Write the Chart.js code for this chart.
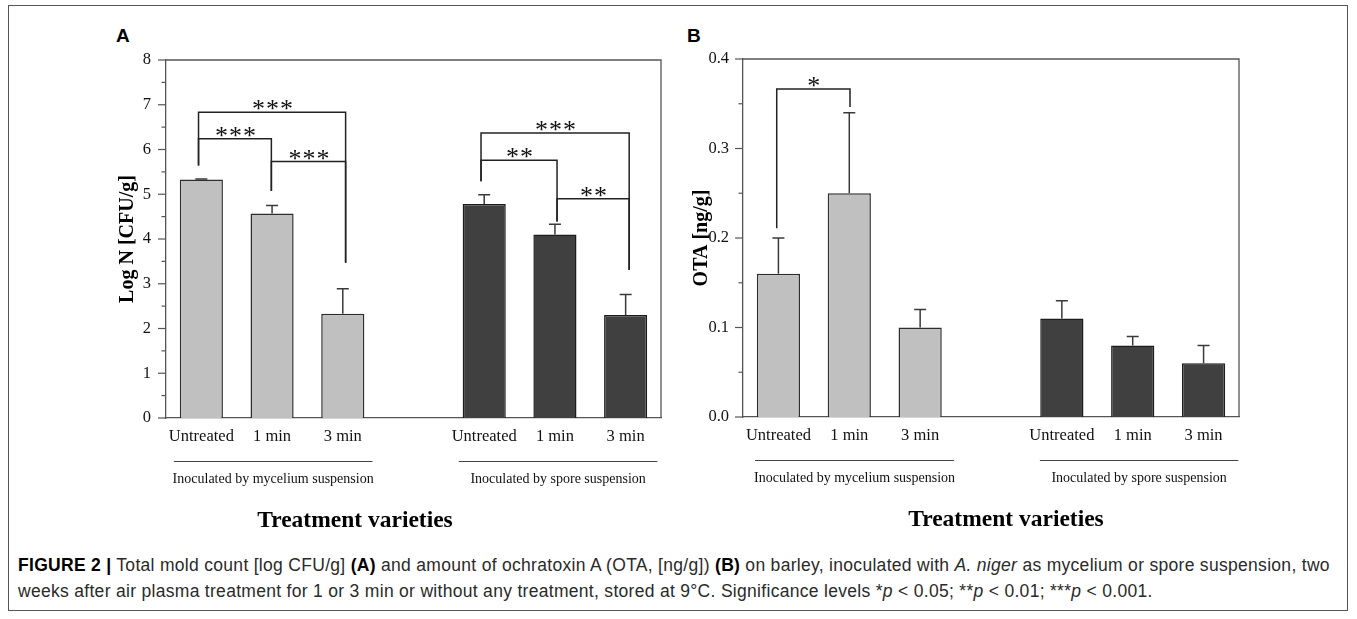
<!DOCTYPE html>
<html><head><meta charset="utf-8">
<script src="https://cdn.jsdelivr.net/npm/chart.js@4.4.0/dist/chart.umd.min.js"></script>
<style>
html,body{margin:0;padding:0;background:#fff;}
body{width:1357px;height:619px;position:relative;overflow:hidden;}
#frame{position:absolute;left:8px;top:5px;width:1340px;height:606px;border:1px solid #555;box-sizing:border-box;}
.letter{position:absolute;font-family:'Liberation Sans',Arial,sans-serif;font-weight:bold;font-size:19px;color:#000;line-height:1;}
#cA{position:absolute;left:0;top:0;}
#cB{position:absolute;left:680px;top:0;}
#caption{position:absolute;left:18px;top:552px;font-family:'Liberation Sans Narrow','Liberation Sans',sans-serif;font-size:17.5px;letter-spacing:0.3px;line-height:26px;color:#2a2a2a;white-space:nowrap;}
#caption b{color:#000;}
</style></head>
<body>
<div id="frame"></div>
<div class="letter" style="left:116px;top:26px;">A</div>
<div class="letter" style="left:687px;top:26px;">B</div>
<canvas id="cA" width="680" height="545"></canvas>
<canvas id="cB" width="677" height="545"></canvas>
<div id="caption"><b>FIGURE 2 |</b> Total mold count [log CFU/g] <b>(A)</b> and amount of ochratoxin A (OTA, [ng/g]) <b>(B)</b> on barley, inoculated with <i>A. niger</i> as mycelium or spore suspension, two<br>weeks after air plasma treatment for 1 or 3 min or without any treatment, stored at 9°C. Significance levels *<i>p</i> &lt; 0.05; **<i>p</i> &lt; 0.01; ***<i>p</i> &lt; 0.001.</div>
<script>
// ---------- data ----------
const categories = ['Untreated', '1 min', '3 min', '', 'Untreated', '1 min', '3 min'];
const groupNames = ['Inoculated by mycelium suspension', 'Inoculated by spore suspension'];
const xTitle = 'Treatment varieties';

const cfuMycelium    = [5.33, 4.57, 2.33, null, null, null, null];
const cfuMyceliumErr = [0.01, 0.18, 0.56, null, null, null, null];
const cfuSpore       = [null, null, null, null, 4.78, 4.10, 2.30];
const cfuSporeErr    = [null, null, null, null, 0.21, 0.23, 0.46];

const otaMycelium    = [0.16, 0.25, 0.10, null, null, null, null];
const otaMyceliumErr = [0.04, 0.09, 0.02, null, null, null, null];
const otaSpore       = [null, null, null, null, 0.11, 0.08, 0.06];
const otaSporeErr    = [null, null, null, null, 0.02, 0.01, 0.02];

const cfuMajorTicks = [0, 1, 2, 3, 4, 5, 6, 7, 8];
const cfuMinorTicks = [0.5, 1.5, 2.5, 3.5, 4.5, 5.5, 6.5, 7.5];
const otaMajorTicks = [0, 0.1, 0.2, 0.3, 0.4];
const otaMinorTicks = [0.05, 0.15, 0.25, 0.35];

// significance brackets (category index from/to, level, leg ends, stars)
const cfuBracketFrom    = [-0.04, -0.04, 0.99, 3.955, 3.955, 5.03];
const cfuBracketTo      = [2.04, 0.99, 2.04, 6.05, 5.03, 6.05];
const cfuBracketLevel   = [6.83, 6.24, 5.73, 6.37, 5.76, 4.90];
const cfuBracketFromEnd = [5.64, 5.64, 5.07, 5.29, 5.29, 4.39];
const cfuBracketToEnd   = [3.47, 5.07, 3.47, 3.31, 4.39, 3.31];
const cfuBracketStars   = ['***', '***', '***', '***', '**', '**'];

const otaBracketFrom    = [-0.024];
const otaBracketTo      = [1.01];
const otaBracketLevel   = [0.3666];
const otaBracketFromEnd = [0.211];
const otaBracketToEnd   = [0.3464];
const otaBracketStars   = ['*'];

// group spans under the x axis (category index)
const cfuGroupFrom = [-0.39, 3.64];
const cfuGroupTo   = [2.42, 6.45];
const otaGroupFrom = [-0.33, 3.69];
const otaGroupTo   = [2.48, 6.49];

// ---------- drawing ----------
Chart.defaults.font.family = "'Liberation Serif', 'Times New Roman', serif";
Chart.defaults.color = '#111';

const figurePlugin = {
  id: 'figure',
  afterDatasetsDraw(chart, args, o) {
    const ctx = chart.ctx, xs = chart.scales.x, ys = chart.scales.y, ca = chart.chartArea;
    ctx.save();
    // frame (top + right)
    ctx.strokeStyle = '#555'; ctx.lineWidth = 1.3;
    ctx.beginPath();
    ctx.moveTo(ca.left, ca.top); ctx.lineTo(ca.right, ca.top); ctx.lineTo(ca.right, ca.bottom);
    ctx.stroke();
    // y tick marks
    ctx.lineWidth = 1.2;
    o.major.forEach(v => { const py = ys.getPixelForValue(v); ctx.beginPath(); ctx.moveTo(ca.left - 8, py); ctx.lineTo(ca.left, py); ctx.stroke(); });
    o.minor.forEach(v => { const py = ys.getPixelForValue(v); ctx.beginPath(); ctx.moveTo(ca.left - 4.5, py); ctx.lineTo(ca.left, py); ctx.stroke(); });
    // error bars
    ctx.strokeStyle = '#3a3a3a'; ctx.lineWidth = 1.5;
    chart.data.datasets.forEach((ds, di) => {
      const meta = chart.getDatasetMeta(di);
      ds.errors.forEach((e, i) => {
        if (e == null || ds.data[i] == null) return;
        const bar = meta.data[i];
        const yTop = ys.getPixelForValue(ds.data[i] + e);
        const yBar = ys.getPixelForValue(ds.data[i]);
        ctx.beginPath();
        ctx.moveTo(bar.x, yBar); ctx.lineTo(bar.x, yTop);
        ctx.moveTo(bar.x - 6, yTop); ctx.lineTo(bar.x + 6, yTop);
        ctx.stroke();
      });
    });
    // brackets
    const b = o.brackets;
    ctx.strokeStyle = '#222'; ctx.lineWidth = 1.5;
    ctx.fillStyle = '#111';
    ctx.font = "26px 'Liberation Serif'";
    ctx.letterSpacing = '1px';
    ctx.textAlign = 'center'; ctx.textBaseline = 'alphabetic';
    b.from.forEach((f, i) => {
      const x1 = xs.getPixelForValue(f), x2 = xs.getPixelForValue(b.to[i]);
      const yl = ys.getPixelForValue(b.level[i]);
      ctx.beginPath();
      ctx.moveTo(x1, ys.getPixelForValue(b.fromEnd[i]));
      ctx.lineTo(x1, yl); ctx.lineTo(x2, yl);
      ctx.lineTo(x2, ys.getPixelForValue(b.toEnd[i]));
      ctx.stroke();
      ctx.fillText(b.stars[i], (x1 + x2) / 2 + 1, yl + 5);
    });
    ctx.letterSpacing = '0px';
    // group lines & labels
    ctx.strokeStyle = '#444'; ctx.lineWidth = 1.1;
    ctx.font = "14px 'Liberation Serif'";
    ctx.textBaseline = 'middle';
    o.groups.from.forEach((f, i) => {
      const x1 = xs.getPixelForValue(f), x2 = xs.getPixelForValue(o.groups.to[i]);
      ctx.beginPath(); ctx.moveTo(x1, ca.bottom + 43.5); ctx.lineTo(x2, ca.bottom + 43.5); ctx.stroke();
      ctx.fillText(groupNames[i], (x1 + x2) / 2, ca.bottom + 61);
    });
    // x title
    ctx.font = "bold 23.5px 'Liberation Serif'";
    ctx.fillStyle = '#000';
    ctx.fillText(xTitle, ca.left + o.titleDx, ca.bottom + 103);
    ctx.restore();
  }
};

function makeChart(id, cfg) {
  return new Chart(document.getElementById(id), {
    type: 'bar',
    data: {
      labels: categories,
      datasets: [
        { data: cfg.myc, errors: cfg.mycErr, backgroundColor: '#c0c0c0', borderColor: '#2e2e2e', borderWidth: 1.5, grouped: false, barPercentage: 0.61, categoryPercentage: 1 },
        { data: cfg.spo, errors: cfg.spoErr, backgroundColor: '#404040', borderColor: '#1c1c1c', borderWidth: 1.5, grouped: false, barPercentage: 0.61, categoryPercentage: 1 }
      ]
    },
    options: {
      responsive: false, animation: false,
      layout: { padding: cfg.padding },
      plugins: {
        legend: { display: false }, tooltip: { enabled: false },
        figure: { major: cfg.major, minor: cfg.minor, brackets: cfg.brackets, groups: cfg.groups, titleDx: cfg.titleDx }
      },
      scales: {
        x: {
          offset: true,
          grid: { display: false, drawTicks: false },
          border: { display: true, color: '#555', width: 1.3 },
          ticks: { maxRotation: 0, minRotation: 0, autoSkip: false, padding: 9, color: '#111', font: { size: 16.5 } },
          afterFit: s => { s.height = cfg.xHeight; }
        },
        y: {
          min: 0, max: cfg.max,
          grid: { display: false, drawTicks: false },
          border: { display: true, color: '#555', width: 1.3 },
          ticks: { stepSize: cfg.step, padding: cfg.tickPad, color: '#111', font: { size: 16.5 }, callback: cfg.fmt },
          title: { display: true, text: cfg.yTitle, color: '#000', font: { size: 20, weight: 'bold' }, padding: { top: cfg.titlePad, bottom: 0 } },
          afterFit: s => { s.width = 60; }
        }
      }
    },
    plugins: [figurePlugin]
  });
}

makeChart('cA', {
  myc: cfuMycelium, mycErr: cfuMyceliumErr, spo: cfuSpore, spoErr: cfuSporeErr,
  max: 8, step: 1, fmt: v => String(v), yTitle: 'Log N [CFU/g]', titlePad: 10, tickPad: 15,
  padding: { left: 106, top: 60, right: 19, bottom: 0 }, xHeight: 127,
  major: cfuMajorTicks, minor: cfuMinorTicks,
  brackets: { from: cfuBracketFrom, to: cfuBracketTo, level: cfuBracketLevel, fromEnd: cfuBracketFromEnd, toEnd: cfuBracketToEnd, stars: cfuBracketStars },
  groups: { from: cfuGroupFrom, to: cfuGroupTo }, titleDx: 189
});

makeChart('cB', {
  myc: otaMycelium, mycErr: otaMyceliumErr, spo: otaSpore, spoErr: otaSporeErr,
  max: 0.4, step: 0.1, fmt: v => Number(v).toFixed(1), yTitle: 'OTA [ng/g]', titlePad: 7, tickPad: 14,
  padding: { left: 3, top: 59, right: 118, bottom: 0 }, xHeight: 128,
  major: otaMajorTicks, minor: otaMinorTicks,
  brackets: { from: otaBracketFrom, to: otaBracketTo, level: otaBracketLevel, fromEnd: otaBracketFromEnd, toEnd: otaBracketToEnd, stars: otaBracketStars },
  groups: { from: otaGroupFrom, to: otaGroupTo }, titleDx: 263
});
</script>
</body></html>
